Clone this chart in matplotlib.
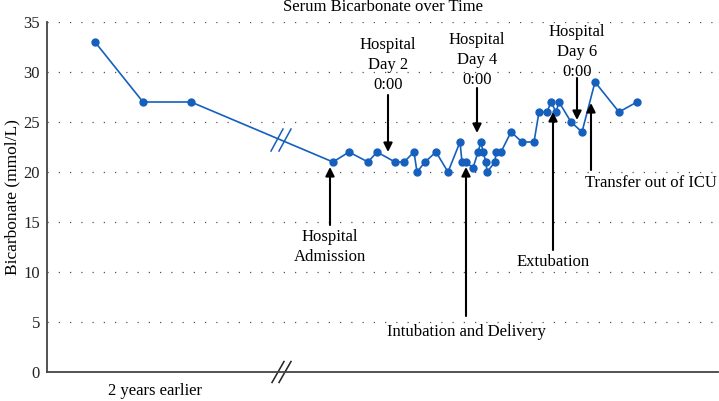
import numpy as np
from matplotlib import pyplot as plt
from matplotlib import transforms

# time position (arbitrary, axis units) and serum bicarbonate (mmol/L)
t = [95, 143, 191, 333, 349, 368, 377, 395, 404, 414, 417, 425, 436,
     448, 460, 462, 466, 473, 478, 481, 483, 486, 487,
     495, 496, 501, 511, 522, 534, 539, 547, 551, 556, 559,
     571, 582, 595, 619, 637]
hco3 = [33, 27, 27, 21, 22, 21, 22, 21, 21, 22, 20, 21, 22,
        20, 23, 21, 21, 20.4, 22, 23, 22, 21, 20,
        21, 22, 22, 24, 23, 23, 26, 26, 27, 26, 27,
        25, 24, 29, 26, 27]
yticks = [0, 5, 10, 15, 20, 25, 30, 35]
break_t = 281
x_label = '2 years earlier'

# events: (label, x, arrow tail y, arrow head y, text y)
events_down = [
    ('Hospital\nDay 2\n0:00', 388, 27.7, 22.0, 30.7),
    ('Hospital\nDay 4\n0:00', 477, 28.4, 23.9, 31.2),
    ('Hospital\nDay 6\n0:00', 577, 29.4, 25.2, 32.0),
]
events_up = [
    ('Hospital\nAdmission', 330, 14.7, 20.5, 12.5, 330, 'center'),
    ('Intubation and Delivery', 466, 5.6, 20.5, 4.0, 466, 'center'),
    ('Extubation', 553, 12.2, 26.0, 11.0, 553, 'center'),
    ('Transfer out of ICU', 591, 20.2, 26.9, 18.9, 585, 'left'),
]

plt.rcParams['font.family'] = ['Liberation Serif', 'DejaVu Serif']
plt.rcParams['font.size'] = 11

fig = plt.figure(figsize=(7.19, 4.01), dpi=100)
ax = fig.add_axes([47/719, 1-372/401, 671/719, 350/401])

blue = '#1560bd'
ax.plot(t, hco3, '-o', color=blue, lw=1.2, ms=5, zorder=3)

ax.set_xlim(47, 718)
ax.set_ylim(0, 35)
ax.set_yticks(yticks)
ax.set_xticks([])
ax.tick_params(axis='y', length=0, pad=5, labelsize=12, colors='#222222')
ax.yaxis.grid(True, linestyle=(0, (1, 8)), color='#555555', lw=0.9)
ax.set_axisbelow(True)
for s in ['top', 'right']:
    ax.spines[s].set_visible(False)
for s in ['left', 'bottom']:
    ax.spines[s].set_color('#444444')
    ax.spines[s].set_linewidth(1.3)
ax.set_ylabel('Bicarbonate (mmol/L)', fontsize=12.5, va='center')
ax.yaxis.set_label_coords(-0.052, 0.5)

# break marks on the line
by = np.interp(break_t, t, hco3)
for dx in (-4, 4):
    ax.plot([break_t+dx-6, break_t+dx+6], [by-1.1, by+1.1], color=blue, lw=1.1, zorder=4)
# break marks on x axis
trans = transforms.blended_transform_factory(ax.transData, ax.transAxes)
for dx in (-3, 4):
    ax.plot([break_t+dx-6, break_t+dx+6], [-0.03, 0.03], color='#222222', lw=1.1,
            transform=trans, clip_on=False)

ax.text(155, -0.055, x_label, transform=trans, ha='center', va='center', fontsize=12)

arrow = dict(arrowstyle='-|>', color='black', lw=1.5, mutation_scale=13,
             shrinkA=0, shrinkB=0)
for label, x, y0, y1, ty in events_down:
    ax.annotate('', xy=(x, y1), xytext=(x, y0), arrowprops=arrow)
    ax.text(x, ty, label, ha='center', va='center', linespacing=1.35, fontsize=12)
for label, x, y0, y1, ty, tx, ha in events_up:
    ax.annotate('', xy=(x, y1), xytext=(x, y0), arrowprops=arrow)
    ax.text(tx, ty, label, ha=ha, va='center', linespacing=1.35, fontsize=12)

fig.text(383/719, 1-11/401, 'Serum Bicarbonate over Time', ha='center', va='baseline',
         fontsize=12)

fig.savefig('out.png', dpi=100)
